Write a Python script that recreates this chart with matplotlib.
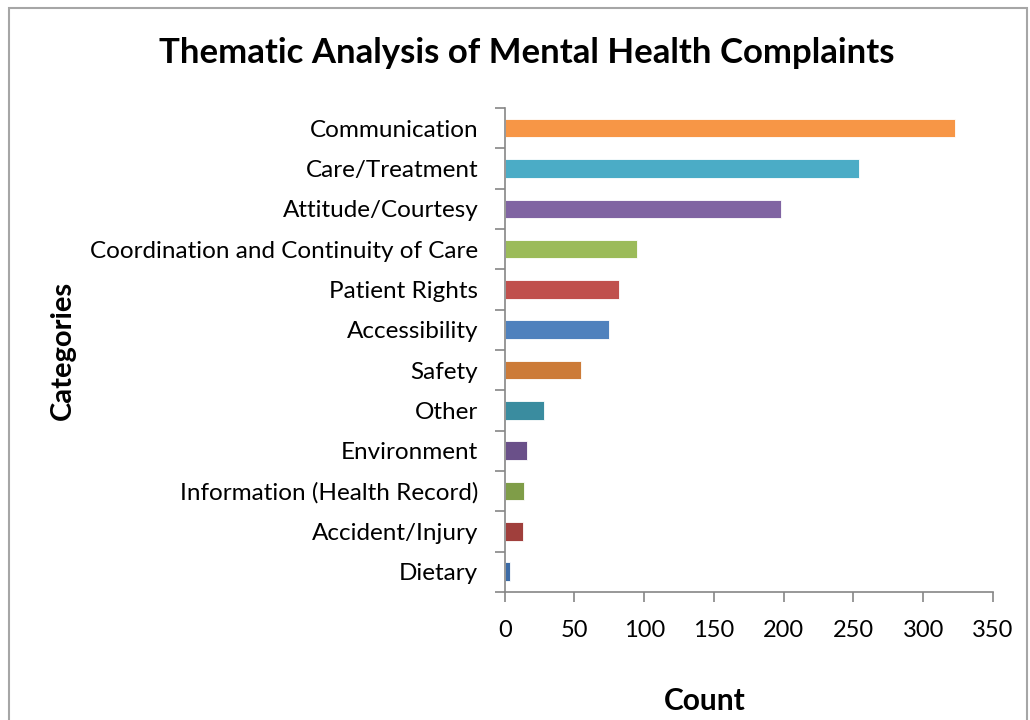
import numpy as np
import matplotlib.pyplot as plt
from matplotlib.patches import Rectangle

categories = ["Communication", "Care/Treatment", "Attitude/Courtesy",
              "Coordination and Continuity of Care", "Patient Rights",
              "Accessibility", "Safety", "Other", "Environment",
              "Information (Health Record)", "Accident/Injury", "Dietary"]
counts = [323, 254, 198, 95, 82, 75, 55, 28, 16, 14, 13, 4]
colors = ["#F79646", "#4BACC6", "#8064A2", "#9BBB59", "#C0504D", "#4F81BD",
          "#CC7B38", "#3A8C9F", "#6A5089", "#7F9D48", "#A03F3C", "#3D6BA5"]
xticks = [0, 50, 100, 150, 200, 250, 300, 350]

plt.rcParams['font.family'] = ['Lato', 'DejaVu Sans']

fig = plt.figure(figsize=(10.3, 7.2), dpi=100)
fig.patches.append(Rectangle((0.009, -0.01), 0.988, 0.999, transform=fig.transFigure,
                             fill=False, edgecolor="#A6A6A6", linewidth=1.5))

ax = fig.add_axes([0.490, 0.178, 0.474, 0.672])
y = np.arange(len(categories))
ax.barh(y, counts, height=0.46, color=colors, edgecolor="white", linewidth=0.6)
ax.set_ylim(len(categories) - 0.5, -0.5)
ax.set_xlim(0, 350)

ax.set_yticks(y)
ax.set_yticklabels(categories, fontsize=17.5)
ax.set_yticks(np.arange(-0.5, len(categories)), minor=True)
ax.tick_params(axis='y', which='major', length=0, pad=19)
ax.tick_params(axis='y', which='minor', length=7, width=1.2, color="#868686")

ax.set_xticks(xticks)
ax.set_xticklabels([str(t) for t in xticks], fontsize=17)
ax.tick_params(axis='x', length=7, width=1.2, color="#868686", pad=13)

for s in ["top", "right"]:
    ax.spines[s].set_visible(False)
for s in ["left", "bottom"]:
    ax.spines[s].set_color("#868686")
    ax.spines[s].set_linewidth(1.2)

fig.text(0.511, 0.926, "Thematic Analysis of Mental Health Complaints",
         fontsize=25, fontweight="bold", ha="center", va="center")
fig.text(0.061, 0.513, "Categories", fontsize=21, fontweight="bold",
         rotation=90, ha="center", va="center")
fig.text(0.684, 0.027, "Count", fontsize=21.5, fontweight="bold",
         ha="center", va="center")

fig.savefig("out.png", dpi=100)
